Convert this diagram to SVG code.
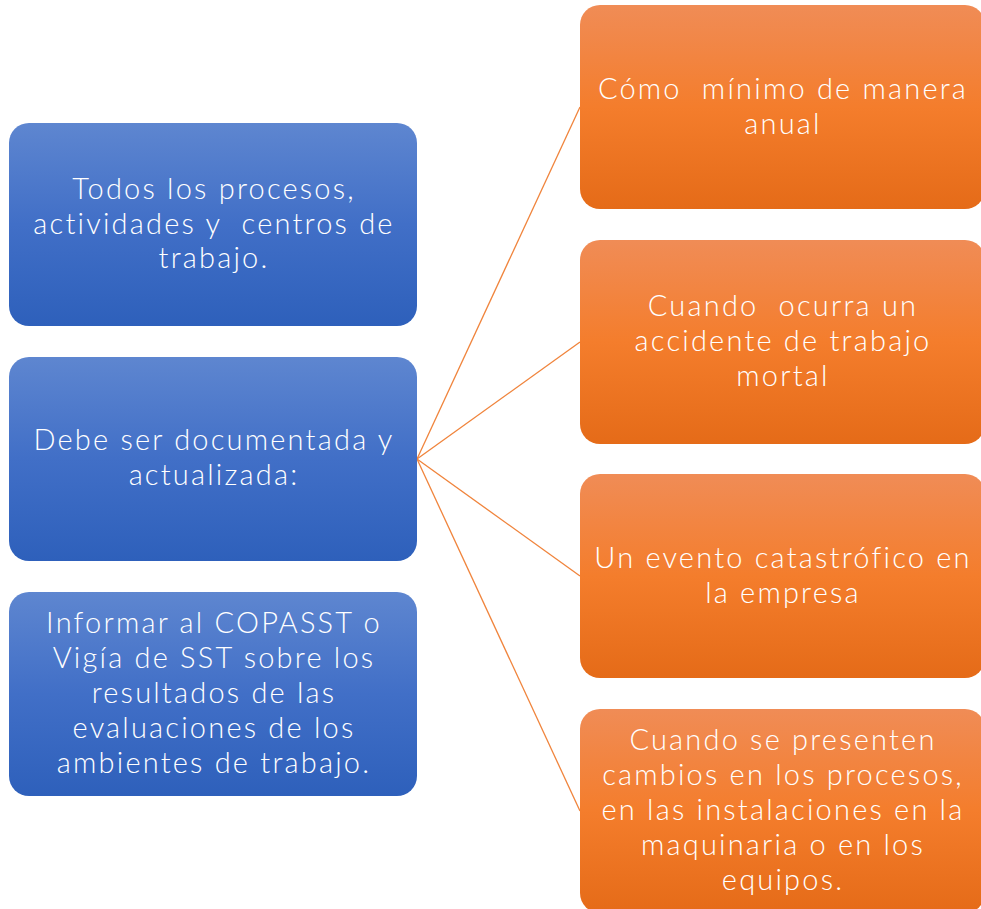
<svg xmlns="http://www.w3.org/2000/svg" width="981" height="909" viewBox="0 0 981 909">
<defs>
<linearGradient id="gb" x1="0" y1="0" x2="0" y2="1">
<stop offset="0" stop-color="#5e86d0"/>
<stop offset="0.5" stop-color="#416fc7"/>
<stop offset="1" stop-color="#2e60bb"/>
</linearGradient>
<linearGradient id="go" x1="0" y1="0" x2="0" y2="1">
<stop offset="0" stop-color="#f08c56"/>
<stop offset="0.5" stop-color="#f47d2c"/>
<stop offset="1" stop-color="#e56b18"/>
</linearGradient>
<style>
.b{fill:url(#gb)}
.o{fill:url(#go)}
.t{font-family:Lato,"Open Sans","Liberation Sans",sans-serif;font-weight:300;font-size:29px;letter-spacing:2.2px;fill:#fff;text-anchor:middle;white-space:pre}
.c{stroke:#f0843c;stroke-width:1.3;fill:none}
</style>
</defs>
<rect width="981" height="909" fill="#fff"/>
<g id="connectors">
<line class="c" x1="417" y1="459" x2="580" y2="107"/>
<line class="c" x1="417" y1="459" x2="580" y2="342"/>
<line class="c" x1="417" y1="459" x2="580" y2="576"/>
<line class="c" x1="417" y1="459" x2="580" y2="811"/>
</g>
<g id="n1">
<rect class="b" x="9" y="123" width="408" height="203" rx="20"/>
<text class="t" x="214" y="199">Todos los procesos,</text>
<text class="t" x="214" y="234">actividades y  centros de</text>
<text class="t" x="214" y="268">trabajo.</text>
</g>
<g id="n2">
<rect class="b" x="9" y="357" width="408" height="204" rx="20"/>
<text class="t" x="214" y="450">Debe ser documentada y</text>
<text class="t" x="214" y="485">actualizada:</text>
</g>
<g id="n3">
<rect class="b" x="9" y="592" width="408" height="204" rx="20"/>
<text class="t" x="214" y="633">Informar al COPASST o</text>
<text class="t" x="214" y="668">Vigía de SST sobre los</text>
<text class="t" x="214" y="703">resultados de las</text>
<text class="t" x="214" y="738">evaluaciones de los</text>
<text class="t" x="214" y="773">ambientes de trabajo.</text>
</g>
<g id="r1">
<rect class="o" x="580" y="5" width="405" height="204" rx="20"/>
<text class="t" x="783" y="99">Cómo  mínimo de manera</text>
<text class="t" x="783" y="134">anual</text>
</g>
<g id="r2">
<rect class="o" x="580" y="240" width="405" height="204" rx="20"/>
<text class="t" x="783" y="316">Cuando  ocurra un</text>
<text class="t" x="783" y="351">accidente de trabajo</text>
<text class="t" x="783" y="386">mortal</text>
</g>
<g id="r3">
<rect class="o" x="580" y="474" width="405" height="204" rx="20"/>
<text class="t" x="783" y="568">Un evento catastrófico en</text>
<text class="t" x="783" y="603">la empresa</text>
</g>
<g id="r4">
<rect class="o" x="580" y="709" width="405" height="204" rx="20"/>
<text class="t" x="783" y="750">Cuando se presenten</text>
<text class="t" x="783" y="785">cambios en los procesos,</text>
<text class="t" x="783" y="820">en las instalaciones en la</text>
<text class="t" x="783" y="855">maquinaria o en los</text>
<text class="t" x="783" y="890">equipos.</text>
</g>
</svg>
